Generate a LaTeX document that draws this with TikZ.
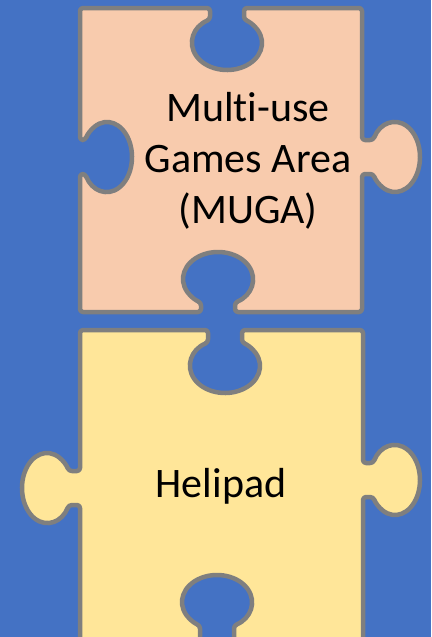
\documentclass[tikz,border=0pt]{standalone}
\usepackage{fontspec}
\setmainfont{Carlito}[Ligatures=NoCommon]

\definecolor{bgblue}{HTML}{4472C4}
\definecolor{edgegray}{HTML}{7F7F7F}
\definecolor{peach}{HTML}{F8CBAD}
\definecolor{sand}{HTML}{FFE699}

\begin{document}
\begin{tikzpicture}[x=1pt, y=-1pt,
    piece/.style={draw=edgegray, line width=4.5pt, line join=round, rounded corners=3pt},
    label/.style={font=\fontsize{42}{51}\selectfont, align=center, text=black}]
    \useasboundingbox (0,0) rectangle (431,637);
    \clip (0,0) rectangle (431,637);
    \fill [bgblue] (0,0) rectangle (431,637);

    % top piece
    \draw [piece, fill=peach] (80,8) -- (210,8) -- (210,19.4)
        arc [start angle=240.94, end angle=-60.94, x radius=35, y radius=27]
        -- (244,8) -- (362,8) -- (362,140) -- (373.15,140)
        arc [start angle=209.06, end angle=510.94, x radius=25, y radius=35]
        -- (362,174) -- (362,312) -- (235,312) -- (235,302.6)
        arc [start angle=60.94, end angle=-240.94, x radius=35, y radius=27]
        -- (201,312) -- (80,312) -- (80,174) -- (85.15,174)
        arc [start angle=150.94, end angle=-150.94, x radius=25, y radius=35]
        -- (80,140) -- cycle;

    % bottom piece
    \draw [piece, fill=sand] (80,330) -- (208,330) -- (208,342.4)
        arc [start angle=240.94, end angle=-60.94, x radius=35, y radius=27]
        -- (242,330) -- (363,330) -- (363,463) -- (373.15,463)
        arc [start angle=209.06, end angle=510.94, x radius=25, y radius=35]
        -- (363,497) -- (363,650) -- (234,650) -- (234,625.6)
        arc [start angle=60.94, end angle=-240.94, x radius=35, y radius=27]
        -- (200,650) -- (80,650) -- (80,505) -- (68.85,505)
        arc [start angle=29.06, end angle=330.94, x radius=25, y radius=35]
        -- (80,471) -- cycle;

    \node (muga) [label] at (248,161) {Multi-use\\Games Area\\(MUGA)};
    \node (helipad) [label, anchor=base] at (221,497) {Helipad};
\end{tikzpicture}
\end{document}
